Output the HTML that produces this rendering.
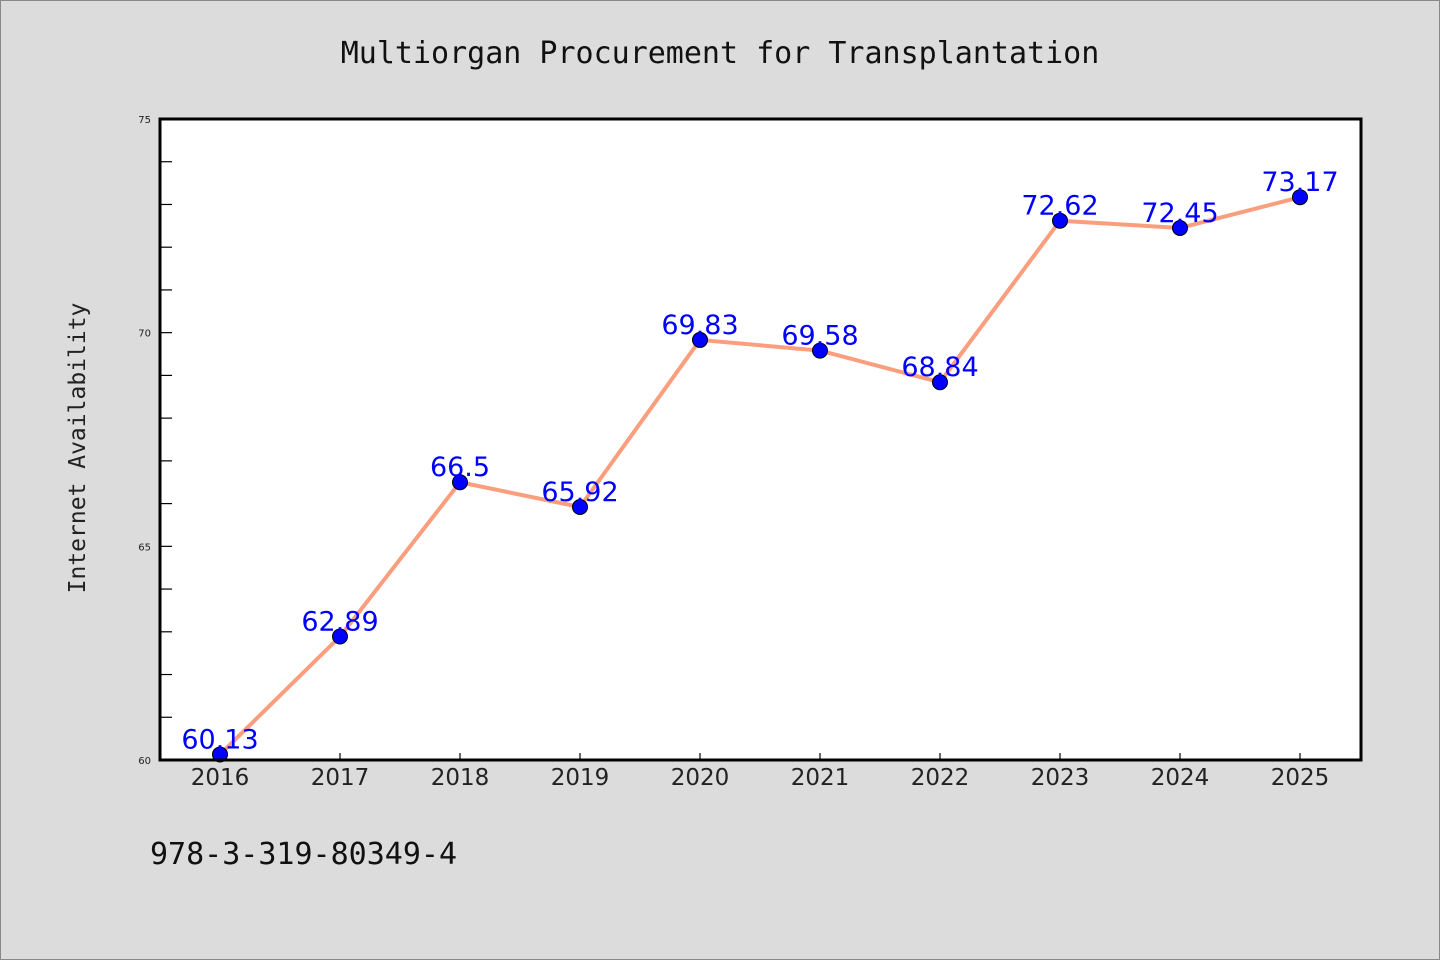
<!DOCTYPE html>
<html><head><meta charset="utf-8"><style>
body{margin:0;background:#dcdcdc;}
svg{display:block}
</style></head><body>
<svg width="1440" height="960" xmlns="http://www.w3.org/2000/svg">
<rect x="0.5" y="0.5" width="1439" height="959" fill="#dcdcdc" stroke="#888"/>
<text x="720" y="63" text-anchor="middle" font-family="DejaVu Sans Mono, Liberation Mono, monospace" font-size="30" fill="#111">Multiorgan Procurement for Transplantation</text>
<text transform="translate(85,448) rotate(-90)" text-anchor="middle" font-family="DejaVu Sans Mono, Liberation Mono, monospace" font-size="23" fill="#222">Internet Availability</text>
<text x="150" y="864" font-family="DejaVu Sans Mono, Liberation Mono, monospace" font-size="30" fill="#111">978-3-319-80349-4</text>
<rect x="160" y="119" width="1201" height="641" fill="#fff"/>
<g id="ticks"></g>
<g id="series"></g>
<rect x="160" y="119" width="1201" height="641" fill="none" stroke="#000" stroke-width="3"/>
</svg>
<script>
const years=["2016","2017","2018","2019","2020","2021","2022","2023","2024","2025"];
const values=[60.13,62.89,66.5,65.92,69.83,69.58,68.84,72.62,72.45,73.17];
const yTickLabels=[60,65,70,75];
const yMin=60,yMax=75;
const NS="http://www.w3.org/2000/svg";
const X=i=>220+i*120;
const Y=v=>760-(v-yMin)*(641/(yMax-yMin));
function mk(tag,attrs,parent,text){const e=document.createElementNS(NS,tag);for(const k in attrs)e.setAttribute(k,attrs[k]);if(text!==undefined)e.textContent=text;parent.appendChild(e);return e;}
const tg=document.getElementById('ticks');
for(let v=yMin+1;v<yMax;v++){
  const t=mk('line',{x1:160,x2:172,y1:Y(v),y2:Y(v),stroke:'#000','stroke-width':1.2},tg);
  
  
}
yTickLabels.forEach(v=>{
  const t=mk('text',{x:151,y:Y(v)+4,'text-anchor':'end','font-family':'DejaVu Sans, sans-serif','font-size':10,fill:'#222'},tg,String(v));
  
  
});
years.forEach((y,i)=>{
  const l=mk('line',{x1:X(i),x2:X(i),y1:760,y2:753,stroke:'#000','stroke-width':1.2},tg);
  
  
  const t=mk('text',{x:X(i),y:785,'text-anchor':'middle','font-family':'DejaVu Sans, Liberation Sans, sans-serif','font-size':23,fill:'#222'},tg,y);
  
  
});
const sg=document.getElementById('series');
const pts=values.map((v,i)=>X(i)+','+Y(v)).join(' ');
const pl=mk('polyline',{points:pts,fill:'none',stroke:'#fa9e7d','stroke-width':4,'stroke-linejoin':'round'},sg);


values.forEach((v,i)=>{
  const c=mk('circle',{cx:X(i),cy:Y(v),r:7.5,fill:'#0000ff',stroke:'#000','stroke-width':1},sg);
  
  
  const t=mk('text',{x:X(i),y:Y(v)-6,'text-anchor':'middle','font-family':'DejaVu Sans, Liberation Sans, sans-serif','font-size':27,fill:'#0000ff'},sg,String(v));
  
  
});
</script>
</body></html>
